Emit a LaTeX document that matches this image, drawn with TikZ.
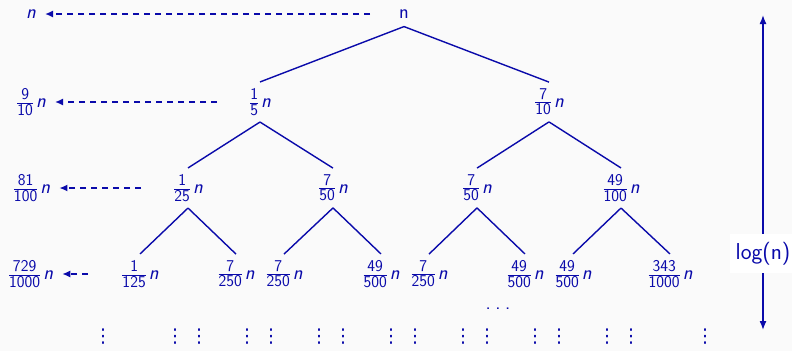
\documentclass[tikz,border=0pt]{standalone}
\usepackage{fontspec}
\newfontfamily\dejavu{DejaVu Sans}
\usetikzlibrary{arrows.meta}
\definecolor{bl}{RGB}{10,10,170}
\definecolor{bgc}{RGB}{250,250,250}
\newcommand{\fnum}{\fontsize{16.5}{16.5}\selectfont\sffamily}
\newcommand{\frn}[2]{$\frac{\mbox{\fnum #1}}{\mbox{\fnum #2}}$\kern2pt\textsl{n}}
\newcommand{\vdts}{{\dejavu\fontsize{19}{19}\selectfont ⋮}}
\tikzset{
  tnode/.style={inner xsep=0pt, inner ysep=6.5pt, text=bl, font=\fontsize{20}{24}\selectfont\sffamily},
  lnode/.style={inner sep=0pt, text=bl, font=\fontsize{20}{24}\selectfont\sffamily},
  edge/.style={draw=bl, line width=1.4pt},
  dasharrow/.style={draw=bl, line width=1.4pt, dash pattern=on 6pt off 5pt, -{Latex[length=8pt,width=7pt]}, shorten >=9pt},
  larrow/.style={draw=bl, line width=1.4pt, {Latex[length=9pt,width=7pt]}-{Latex[length=9pt,width=7pt]}},
}
\begin{document}
\begin{tikzpicture}[x=1pt,y=-1pt]
\fill[bgc] (0,0) rectangle (792,351);
\useasboundingbox (0,0) rectangle (792,351);
% tree nodes
\node[tnode,inner ysep=8pt] (r) at (404,14) {n};
\node[tnode] (a) at (260,102) {\frn{1}{5}};
\node[tnode] (b) at (549,102) {\frn{7}{10}};
\node[tnode] (aa) at (188,188) {\frn{1}{25}};
\node[tnode] (ab) at (333,188) {\frn{7}{50}};
\node[tnode] (ba) at (477,188) {\frn{7}{50}};
\node[tnode] (bb) at (621,188) {\frn{49}{100}};
\node[tnode] (aaa) at (140,274) {\frn{1}{125}};
\node[tnode] (aab) at (236,274) {\frn{7}{250}};
\node[tnode] (aba) at (284,274) {\frn{7}{250}};
\node[tnode] (abb) at (381,274) {\frn{49}{500}};
\node[tnode] (baa) at (429,274) {\frn{7}{250}};
\node[tnode] (bab) at (525,274) {\frn{49}{500}};
\node[tnode] (bba) at (573,274) {\frn{49}{500}};
\node[tnode] (bbb) at (670,274) {\frn{343}{1000}};
% edges
\foreach \p/\c in {r/a,r/b,a/aa,a/ab,b/ba,b/bb,aa/aaa,aa/aab,ab/aba,ab/abb,ba/baa,ba/bab,bb/bba,bb/bbb}
  \draw[edge] (\p.south) -- (\c.north);
% level sums
\node[lnode] (l0) at (31,14) {\textsl{n}};
\node[lnode] (l1) at (31,102) {\frn{9}{10}};
\node[lnode] (l2) at (31.5,188) {\frn{81}{100}};
\node[lnode] (l3) at (30.5,274) {\frn{729}{1000}};
\coordinate (s0) at (370,14);
\coordinate (s1) at (217,102);
\coordinate (s2) at (141,188);
\coordinate (s3) at (88,274);
\draw[dasharrow] (s0) -- (l0);
\draw[dasharrow] (s1) -- (l1);
\draw[dasharrow] (s2) -- (l2);
\draw[dasharrow] (s3) -- (l3);
% dots
\node[lnode] (hd) at (498,309) {.\kern4.5pt.\kern4.5pt.};
\foreach \x [count=\i] in {103,175,199,247,271,319,343,391,415,463,487,535,559,607,631,705}
  \node[lnode] (v\i) at (\x,337) {\vdts};
% height arrow
\coordinate (ltop) at (763,15);
\coordinate (lbot) at (763,330);
\draw[larrow] (ltop) -- (lbot) node[pos=0.757, fill=white, inner xsep=6pt, inner ysep=8pt, text=bl, font=\fontsize{23}{28}\selectfont\sffamily] (lg) {log(n)};
\end{tikzpicture}
\end{document}
